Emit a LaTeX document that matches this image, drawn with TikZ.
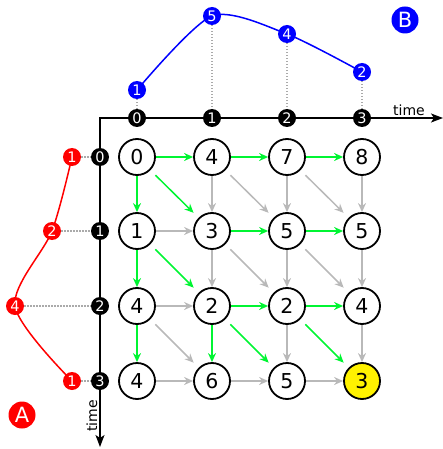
\documentclass[tikz,border=0pt]{standalone}
\usepackage{fontspec}
\setmainfont{DejaVu Sans}
\usetikzlibrary{arrows.meta}
\definecolor{grn}{RGB}{0,245,50}
\definecolor{gry}{RGB}{185,185,185}
\definecolor{dgry}{RGB}{170,170,170}
\begin{document}
\begin{tikzpicture}[x=1pt,y=-1pt,
  cell/.style={circle,draw,line width=1.8pt,minimum size=36pt,inner sep=0pt,fill=white,font=\fontsize{20.5}{20.5}\selectfont},
  tick/.style={circle,fill=black,minimum size=18pt,inner sep=0pt,text=white,font=\fontsize{14.5}{14.5}\selectfont},
  bdot/.style={tick,fill=blue},
  rdot/.style={tick,fill=red},
  big/.style={circle,minimum size=27pt,inner sep=0pt,text=white,font=\fontsize{21}{21}\selectfont},
  lbl/.style={inner sep=0pt,font=\fontsize{14}{14}\selectfont},
  ga/.style={draw=gry,line width=1.5pt,-{Stealth[length=9pt,width=8pt]}},
  gn/.style={ga,draw=grn},
  dg/.style={shorten <=7pt,shorten >=7pt},
  guide/.style={draw=dgry,line width=1.3pt,dash pattern=on 1.3pt off 1.7pt},
  axis/.style={line width=1.5pt,{Stealth[length=12pt,width=9pt,inset=3pt]}-{Stealth[length=12pt,width=9pt,inset=3pt]}}]
\useasboundingbox (0,0) rectangle (443,449);
% coordinates
\coordinate (O) at (100,118);
\coordinate (xe) at (443,118);
\coordinate (ye) at (100,447);
\coordinate (pb0) at (137,90);
\coordinate (pb1) at (212,16);
\coordinate (pb2) at (287,34);
\coordinate (pb3) at (362,72);
\coordinate (pr0) at (72,157);
\coordinate (pr1) at (52,231);
\coordinate (pr2) at (15,306);
\coordinate (pr3) at (72,381);
% axes
\draw[axis] (xe) -- (O) -- (ye);
\node[lbl] (tx) at (409,110) {time};
\node[lbl,rotate=90] (ty) at (92,416) {time};
% curves
\draw[blue,line width=1.5pt] plot[smooth,tension=0.45] coordinates {(pb0) (pb1) (pb2) (pb3)};
\draw[red,line width=1.5pt] plot[smooth,tension=0.5] coordinates {(pr0) (pr1) (pr2) (pr3)};
% axis ticks
\foreach \i/\x in {0/137,1/212,2/287,3/362}{
  \node[tick] (tx\i) at (\x,118) {\i};
}
\foreach \i/\y in {0/157,1/231,2/306,3/381}{
  \node[tick] (ty\i) at (100,\y) {\i};
}
% blue and red points
\node[bdot] (b0) at (pb0) {1};
\node[bdot] (b1) at (pb1) {5};
\node[bdot] (b2) at (pb2) {4};
\node[bdot] (b3) at (pb3) {2};
\node[rdot] (r0) at (pr0) {1};
\node[rdot] (r1) at (pr1) {2};
\node[rdot] (r2) at (pr2) {4};
\node[rdot] (r3) at (pr3) {1};
\foreach \i in {0,1,2,3}{
  \draw[guide] (b\i) -- (tx\i);
  \draw[guide] (r\i) -- (ty\i);
}
\node[big,fill=blue] (B) at (405,20) {B};
\node[big,fill=red] (A) at (22,415) {A};
% grid
\node[cell] (c00) at (137,157) {0};
\node[cell] (c01) at (212,157) {4};
\node[cell] (c02) at (287,157) {7};
\node[cell] (c03) at (362,157) {8};
\node[cell] (c10) at (137,231) {1};
\node[cell] (c11) at (212,231) {3};
\node[cell] (c12) at (287,231) {5};
\node[cell] (c13) at (362,231) {5};
\node[cell] (c20) at (137,306) {4};
\node[cell] (c21) at (212,306) {2};
\node[cell] (c22) at (287,306) {2};
\node[cell] (c23) at (362,306) {4};
\node[cell] (c30) at (137,381) {4};
\node[cell] (c31) at (212,381) {6};
\node[cell] (c32) at (287,381) {5};
\node[cell,fill=yellow] (c33) at (362,381) {3};
% horizontal
\draw[gn] (c00) -- (c01);
\draw[gn] (c01) -- (c02);
\draw[gn] (c02) -- (c03);
\draw[ga] (c10) -- (c11);
\draw[gn] (c11) -- (c12);
\draw[gn] (c12) -- (c13);
\draw[ga] (c20) -- (c21);
\draw[gn] (c21) -- (c22);
\draw[gn] (c22) -- (c23);
\draw[ga] (c30) -- (c31);
\draw[ga] (c31) -- (c32);
\draw[ga] (c32) -- (c33);
% vertical
\draw[gn] (c00) -- (c10);
\draw[gn] (c10) -- (c20);
\draw[gn] (c20) -- (c30);
\draw[ga] (c01) -- (c11);
\draw[ga] (c11) -- (c21);
\draw[gn] (c21) -- (c31);
\draw[ga] (c02) -- (c12);
\draw[ga] (c12) -- (c22);
\draw[ga] (c22) -- (c32);
\draw[ga] (c03) -- (c13);
\draw[ga] (c13) -- (c23);
\draw[ga] (c23) -- (c33);
% diagonal
\draw[gn,dg] (c00) -- (c11);
\draw[ga,dg] (c01) -- (c12);
\draw[ga,dg] (c02) -- (c13);
\draw[gn,dg] (c10) -- (c21);
\draw[ga,dg] (c11) -- (c22);
\draw[ga,dg] (c12) -- (c23);
\draw[ga,dg] (c20) -- (c31);
\draw[gn,dg] (c21) -- (c32);
\draw[gn,dg] (c22) -- (c33);
\end{tikzpicture}
\end{document}
